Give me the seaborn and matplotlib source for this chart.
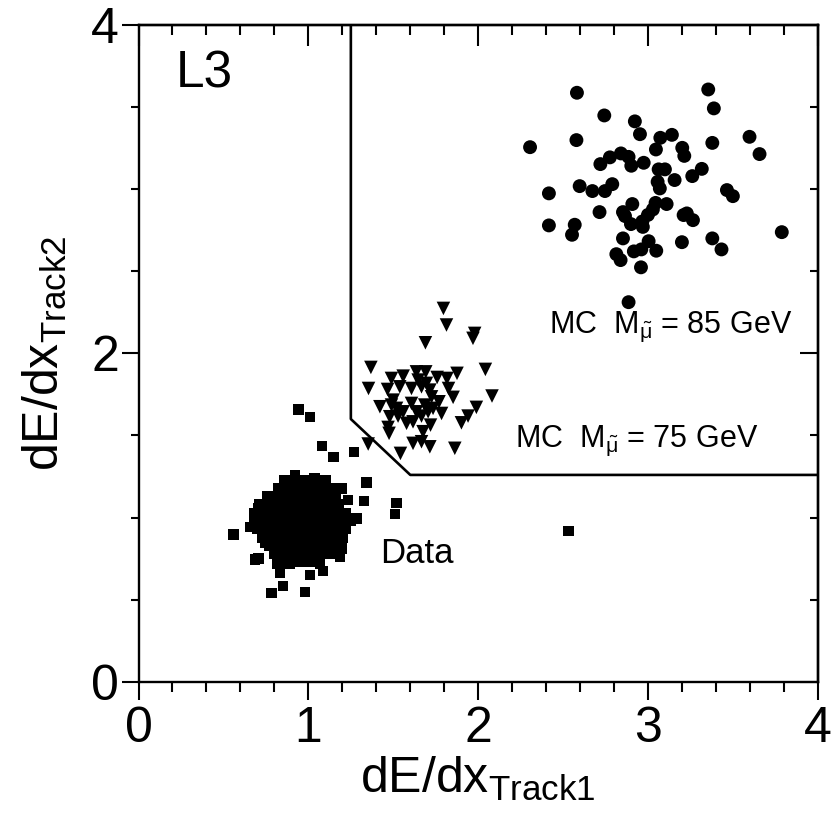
import matplotlib
matplotlib.use("Agg")
import matplotlib.pyplot as plt
from matplotlib.ticker import MultipleLocator
import pandas as pd
import seaborn as sns

# MC smuon, M = 85 GeV (circles)
mc85_x = [2.581, 3.354, 3.387, 2.742, 2.922, 2.952, 3.072, 3.140, 2.578, 2.305,
          3.046, 3.201, 3.213, 3.378, 3.597, 3.656, 2.775, 2.840, 2.885, 2.901,
          2.719, 2.974, 3.062, 3.099, 3.056, 3.069, 3.156, 3.260, 3.316, 2.597,
          2.672, 2.746, 2.789, 2.416, 3.464, 3.499, 2.907, 2.714, 2.852, 2.864,
          3.044, 3.109, 3.028, 2.999, 3.209, 3.228, 3.264, 2.899, 2.966, 2.969,
          2.416, 2.568, 2.552, 3.787, 3.378, 3.432, 3.199, 2.852, 3.003, 2.916,
          2.960, 3.048, 2.813, 2.838, 2.958, 2.885]
mc85_y = [3.585, 3.605, 3.490, 3.447, 3.411, 3.333, 3.311, 3.329, 3.297, 3.254,
          3.240, 3.250, 3.201, 3.280, 3.317, 3.212, 3.192, 3.216, 3.195, 3.141,
          3.151, 3.159, 3.119, 3.119, 3.043, 3.003, 3.054, 3.078, 3.122, 3.017,
          2.987, 2.987, 3.029, 2.973, 2.993, 2.956, 2.908, 2.859, 2.859, 2.835,
          2.915, 2.908, 2.875, 2.842, 2.841, 2.851, 2.810, 2.786, 2.802, 2.769,
          2.778, 2.782, 2.721, 2.737, 2.699, 2.632, 2.676, 2.699, 2.682, 2.620,
          2.632, 2.624, 2.603, 2.567, 2.523, 2.311]

# MC smuon, M = 75 GeV (triangles)
mc75_x = [1.795, 1.813, 1.979, 1.969, 1.689, 1.368, 2.042, 1.875, 1.354, 2.081,
          1.489, 1.558, 1.636, 1.691, 1.758, 1.816, 1.466, 1.538, 1.607, 1.666,
          1.715, 1.825, 1.852, 1.421, 1.489, 1.519, 1.607, 1.685, 1.769, 1.479,
          1.528, 1.666, 1.734, 1.784, 1.989, 1.940, 1.901, 1.469, 1.578, 1.616,
          1.719, 1.675, 1.475, 1.616, 1.666, 1.715, 1.862, 1.542, 1.352, 1.646,
          1.695, 1.725, 1.499, 1.705, 1.636, 1.558]
mc75_y = [2.273, 2.172, 2.121, 2.091, 2.064, 1.914, 1.902, 1.878, 1.786, 1.740,
          1.847, 1.861, 1.887, 1.887, 1.853, 1.847, 1.780, 1.796, 1.786, 1.796,
          1.776, 1.786, 1.732, 1.675, 1.685, 1.665, 1.695, 1.685, 1.705, 1.614,
          1.618, 1.618, 1.665, 1.634, 1.671, 1.618, 1.577, 1.549, 1.574, 1.583,
          1.563, 1.523, 1.513, 1.452, 1.462, 1.431, 1.422, 1.391, 1.448, 1.837,
          1.817, 1.735, 1.715, 1.644, 1.644, 1.644]

# Data: dense core, read row by row
core_rows_y = [1.23, 1.18, 1.13, 1.08, 1.03, 0.98, 0.93, 0.88, 0.83, 0.78, 0.73]
core_rows_x = [
    [0.86, 0.91, 0.96, 1.01, 1.06, 1.10],
    [0.82, 0.87, 0.92, 0.97, 1.02, 1.07, 1.12, 1.14],
    [0.76, 0.81, 0.86, 0.91, 0.96, 1.01, 1.06, 1.11, 1.16],
    [0.71, 0.76, 0.81, 0.86, 0.91, 0.96, 1.01, 1.06, 1.11, 1.16, 1.18],
    [0.68, 0.73, 0.78, 0.83, 0.88, 0.93, 0.98, 1.03, 1.08, 1.13, 1.18, 1.22],
    [0.68, 0.73, 0.78, 0.83, 0.88, 0.93, 0.98, 1.03, 1.08, 1.13, 1.18, 1.23, 1.25],
    [0.70, 0.75, 0.80, 0.85, 0.90, 0.95, 1.00, 1.05, 1.10, 1.15, 1.20, 1.22],
    [0.73, 0.78, 0.83, 0.88, 0.93, 0.98, 1.03, 1.08, 1.13, 1.18, 1.20],
    [0.77, 0.82, 0.87, 0.92, 0.97, 1.02, 1.07, 1.12, 1.17],
    [0.80, 0.85, 0.90, 0.95, 1.00, 1.05, 1.10, 1.13],
    [0.87, 0.92, 0.97, 1.02, 1.05],
]
# Data: edge squares and outliers
data_x = [0.855, 0.921, 1.037, 1.097, 1.195, 0.705, 0.656, 0.747, 0.815, 0.891,
          1.068, 1.126, 0.942, 1.009, 1.081, 1.148, 1.268, 1.342, 1.328, 1.519,
          1.509, 0.558, 0.707, 0.832, 0.852, 0.784, 0.979, 1.009, 1.087, 1.185,
          1.166, 2.532, 1.234, 1.283, 1.195, 0.685]
data_y = [1.229, 1.259, 1.239, 1.218, 1.178, 1.057, 0.945, 0.844, 0.722, 0.722,
          0.722, 0.793, 1.659, 1.614, 1.436, 1.370, 1.399, 1.215, 1.101, 1.091,
          1.022, 0.898, 0.752, 0.667, 0.586, 0.540, 0.549, 0.651, 0.677, 0.762,
          0.803, 0.920, 1.107, 0.996, 0.813, 0.746]

# selection cut
cut_x = [1.25, 1.25, 1.60, 4.0]
cut_y = [4.0, 1.60, 1.26, 1.26]

sns.set_style("white")
plt.rcParams['font.family'] = ['Liberation Sans', 'DejaVu Sans']
plt.rcParams['mathtext.fontset'] = 'custom'
plt.rcParams['mathtext.rm'] = 'Liberation Sans'
plt.rcParams['mathtext.it'] = 'Liberation Sans'
plt.rcParams['mathtext.default'] = 'regular'
for key in ['text.color', 'axes.labelcolor', 'xtick.color', 'ytick.color', 'axes.edgecolor']:
    plt.rcParams[key] = 'black'

data = pd.DataFrame({
    "x": [x for row in core_rows_x for x in row] + data_x,
    "y": [y for row, y in zip(core_rows_x, core_rows_y) for _ in row] + data_y,
})

fig = plt.figure(figsize=(8.38, 8.13), dpi=100)
ax = fig.add_axes([0.1653, 0.1611, 0.8108, 0.8087])

sns.scatterplot(data=data, x="x", y="y", marker="s", s=56, color="black",
                edgecolor="none", ax=ax)
sns.scatterplot(x=mc75_x, y=mc75_y, marker="v", s=95, color="black",
                edgecolor="none", ax=ax)
sns.scatterplot(x=mc85_x, y=mc85_y, marker="o", s=100, color="black",
                edgecolor="none", ax=ax)
sns.lineplot(x=cut_x, y=cut_y, sort=False, estimator=None, color="black",
             linewidth=1.9, ax=ax)

ax.set_xlim(0, 4)
ax.set_ylim(0, 4)
for sp in ax.spines.values():
    sp.set_linewidth(1.7)

ax.xaxis.set_major_locator(MultipleLocator(1))
ax.xaxis.set_minor_locator(MultipleLocator(0.2))
ax.yaxis.set_major_locator(MultipleLocator(2))
ax.yaxis.set_minor_locator(MultipleLocator(0.5))
ax.tick_params(axis="x", which="major", direction="out", length=13, width=1.5,
               labelsize=36, pad=4, bottom=True, top=False)
ax.tick_params(axis="x", which="minor", direction="out", length=7, width=1.5,
               bottom=True, top=False)
ax.tick_params(axis="y", which="major", direction="out", length=12, width=1.5,
               labelsize=36, pad=2, left=True, right=False)
ax.tick_params(axis="y", which="minor", direction="out", length=6, width=1.5,
               left=True, right=False)

# inward ticks on top and right
top = ax.secondary_xaxis("top")
top.xaxis.set_major_locator(MultipleLocator(1))
top.xaxis.set_minor_locator(MultipleLocator(0.2))
top.tick_params(axis="x", which="major", direction="in", length=15, width=1.5,
                top=True, labeltop=False)
top.tick_params(axis="x", which="minor", direction="in", length=7, width=1.5, top=True)
top.spines["top"].set_linewidth(1.7)

right = ax.secondary_yaxis("right")
right.yaxis.set_major_locator(MultipleLocator(2))
right.yaxis.set_minor_locator(MultipleLocator(0.5))
right.tick_params(axis="y", which="major", direction="in", length=13, width=1.5,
                  right=True, labelright=False)
right.tick_params(axis="y", which="minor", direction="in", length=6, width=1.5, right=True)
right.spines["right"].set_linewidth(1.7)

ax.set_xlabel("dE/dx$_{Track1}$", fontsize=36, labelpad=2)
ax.set_ylabel("dE/dx$_{Track2}$", fontsize=36, labelpad=16)

ax.text(0.22, 3.62, "L3", fontsize=37, ha="left", va="baseline")
ax.text(2.416, 2.125, "MC  M$_{\\tilde{\\mu}}$ = 85 GeV", fontsize=22, ha="left", va="baseline")
ax.text(2.215, 1.431, "MC  M$_{\\tilde{\\mu}}$ = 75 GeV", fontsize=22, ha="left", va="baseline")
ax.text(1.421, 0.722, "Data", fontsize=25, ha="left", va="baseline")

fig.savefig("out.png", dpi=100)
